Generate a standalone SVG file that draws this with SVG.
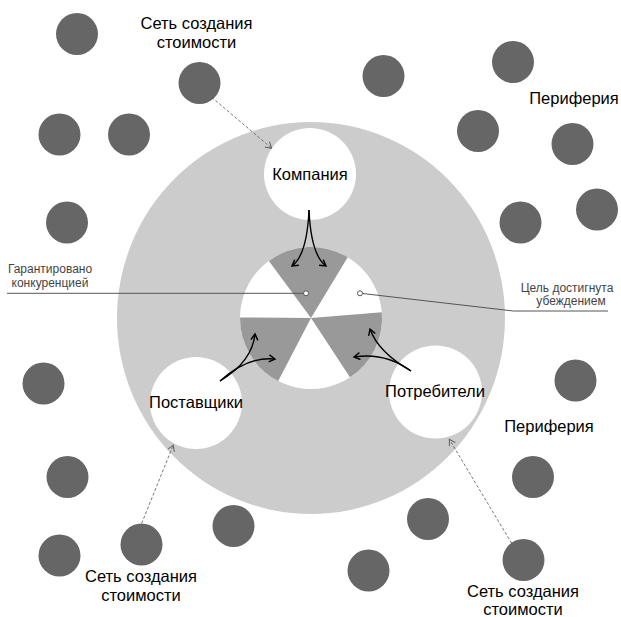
<svg xmlns="http://www.w3.org/2000/svg" width="621" height="617" viewBox="0 0 621 617">
<style>
.dot{fill:#666666}
.lbl{font-family:"Liberation Sans",Arial,sans-serif;font-size:16.5px;fill:#000;text-anchor:middle}
.note{font-family:"Liberation Sans",Arial,sans-serif;font-size:12px;fill:#444;text-anchor:middle}
.dash{stroke:#555;stroke-width:0.8;fill:none;stroke-dasharray:3 2}
.cur{stroke:#000;stroke-width:1.4;fill:none}
.call{stroke:#555;stroke-width:1;fill:none}
</style>
<defs>
<marker id="ah" markerWidth="10" markerHeight="10" refX="7" refY="4" orient="auto" markerUnits="userSpaceOnUse">
<path d="M1,0.5 L7,4 L1,7.5" fill="none" stroke="#000" stroke-width="1.4"/>
</marker>
<marker id="ahd" markerWidth="10" markerHeight="10" refX="7" refY="4" orient="auto" markerUnits="userSpaceOnUse">
<path d="M1,0.5 L7,4 L1,7.5" fill="none" stroke="#555" stroke-width="0.9"/>
</marker>
</defs>
<rect width="621" height="617" fill="#fff"/>
<g id="value-network">
<ellipse cx="311" cy="318" rx="194" ry="196" fill="#cccccc"/>
</g>
<g id="pie">
<circle cx="311" cy="318" r="71" fill="#fff"/>
<path d="M311,318 L268.9,260.9 A71,71 0 0 1 347.7,257.2 Z" fill="#999999"/>
<path d="M311,318 L381.8,312.3 A71,71 0 0 1 350,377.3 Z" fill="#999999"/>
<path d="M311,318 L278.2,381 A71,71 0 0 1 240,317.4 Z" fill="#999999"/>
</g>
<g id="company">
<circle cx="310" cy="174" r="46" fill="#fff"/>
<text class="lbl" x="310" y="180">Компания</text>
</g>
<g id="suppliers">
<circle cx="196" cy="403" r="46" fill="#fff"/>
<text class="lbl" x="196" y="408">Поставщики</text>
</g>
<g id="consumers">
<circle cx="435.5" cy="392" r="46.5" fill="#fff"/>
<text class="lbl" x="435" y="397">Потребители</text>
</g>
<g id="periphery-dots">
<circle class="dot" cx="77" cy="34" r="21"/>
<circle class="dot" cx="199.5" cy="83" r="21"/>
<circle class="dot" cx="383.5" cy="76" r="21"/>
<circle class="dot" cx="513" cy="62" r="21"/>
<circle class="dot" cx="59.5" cy="134.5" r="21"/>
<circle class="dot" cx="129" cy="134.5" r="21"/>
<circle class="dot" cx="478" cy="131" r="21"/>
<circle class="dot" cx="572.5" cy="144" r="21"/>
<circle class="dot" cx="67" cy="222.5" r="21"/>
<circle class="dot" cx="520.5" cy="222.5" r="21"/>
<circle class="dot" cx="597" cy="209.5" r="21"/>
<circle class="dot" cx="43.5" cy="383.5" r="21"/>
<circle class="dot" cx="575.5" cy="380.5" r="21"/>
<circle class="dot" cx="67.5" cy="477" r="21"/>
<circle class="dot" cx="533" cy="477" r="21"/>
<circle class="dot" cx="233.5" cy="526" r="21"/>
<circle class="dot" cx="141.5" cy="544.5" r="21"/>
<circle class="dot" cx="59.5" cy="555.5" r="21"/>
<circle class="dot" cx="428" cy="519" r="21"/>
<circle class="dot" cx="368.5" cy="570.5" r="21"/>
<circle class="dot" cx="523.5" cy="560" r="21"/>
</g>
<g id="labels">
<text class="lbl" x="196.5" y="29">Сеть создания</text>
<text class="lbl" x="196.5" y="48">стоимости</text>
<text class="lbl" x="574" y="104">Периферия</text>
<text class="lbl" x="549" y="432">Периферия</text>
<text class="lbl" x="141" y="582">Сеть создания</text>
<text class="lbl" x="141" y="601">стоимости</text>
<text class="lbl" x="523" y="597">Сеть создания</text>
<text class="lbl" x="523" y="615">стоимости</text>
<text class="note" x="50" y="273">Гарантировано</text>
<text class="note" x="50" y="287">конкуренцией</text>
<text class="note" x="567" y="292">Цель достигнута</text>
<text class="note" x="571" y="305">убеждением</text>
</g>
<g id="connectors">
<path class="dash" d="M211.7,97.3 L271.7,148.3" marker-end="url(#ahd)"/>
<path class="dash" d="M141.7,523.3 L173.3,445" marker-end="url(#ahd)"/>
<path class="dash" d="M511.7,543.3 L449.3,439.3" marker-end="url(#ahd)"/>
<path class="cur" d="M309,210 Q307,255 292,266" marker-end="url(#ah)"/>
<path class="cur" d="M309,210 Q311,255 326,266" marker-end="url(#ah)"/>
<path class="cur" d="M220,381 Q252,362 255,334" marker-end="url(#ah)"/>
<path class="cur" d="M220,381 Q248,356 275,359" marker-end="url(#ah)"/>
<path class="cur" d="M411,371 Q378,352 370,329" marker-end="url(#ah)"/>
<path class="cur" d="M411,371 Q385,352 354,357" marker-end="url(#ah)"/>
<path class="call" d="M7,293.3 L303.5,293.3"/>
<circle cx="306" cy="293.3" r="2.5" fill="#fff" stroke="#555" stroke-width="1"/>
<path class="call" d="M362.5,293.5 L513.3,311 L608,311"/>
<circle cx="360" cy="293.3" r="2.5" fill="#fff" stroke="#555" stroke-width="1"/>
</g>
</svg>
